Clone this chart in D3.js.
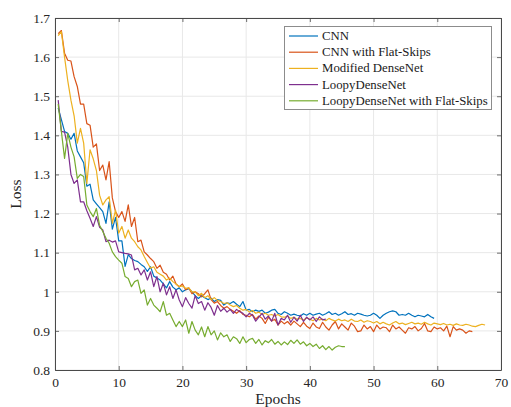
<!DOCTYPE html>
<html><head><meta charset="utf-8">
<script src="https://cdn.jsdelivr.net/npm/d3@7"></script>
<style>body{margin:0;background:#fff}svg{display:block}</style>
</head><body>
<svg id="c" width="511" height="407"></svg>
<script>
const seriesNames = ["CNN","CNN with Flat-Skips","Modified DenseNet","LoopyDenseNet","LoopyDenseNet with Flat-Skips"];
const colors = ["#0072BD","#D95319","#EDB120","#7E2F8E","#77AC30"];
const epochStep = 0.5; // one loss value every half epoch, starting at 0.5
const xTicks = [0,10,20,30,40,50,60,70];
const yTicks = [0.8,0.9,1.0,1.1,1.2,1.3,1.4,1.5,1.6,1.7];
const yTickLabels = ["0.8","0.9","1","1.1","1.2","1.3","1.4","1.5","1.6","1.7"];

const cnn = [1.47,1.44,1.41,1.405,1.39,1.405,1.36,1.345,1.33,1.27,1.275,1.235,1.225,1.215,1.205,1.175,1.23,1.16,1.19,1.13,
1.13,1.065,1.095,1.085,1.08,1.077,1.07,1.064,1.052,1.064,1.04,1.035,1.03,1.02,1.01,1.026,1.012,1.005,1.01,1.0,
1.005,1.008,1.0,0.99,0.983,0.99,0.985,0.98,0.984,0.975,0.98,0.978,0.966,0.972,0.97,0.975,0.968,0.962,0.975,0.953,
0.955,0.949,0.953,0.95,0.953,0.945,0.948,0.953,0.955,0.945,0.942,0.949,0.945,0.94,0.943,0.94,0.938,0.944,0.94,0.945,
0.94,0.943,0.945,0.94,0.944,0.949,0.942,0.945,0.94,0.944,0.949,0.942,0.944,0.94,0.945,0.943,0.94,0.938,0.94,0.945,
0.94,0.932,0.94,0.945,0.949,0.951,0.949,0.94,0.942,0.94,0.945,0.94,0.936,0.94,0.938,0.936,0.942,0.936,0.932];

const cnnFlat = [1.66,1.668,1.61,1.592,1.59,1.55,1.525,1.48,1.48,1.43,1.426,1.37,1.378,1.31,1.324,1.286,1.333,1.24,1.205,1.19,
1.205,1.18,1.222,1.167,1.19,1.128,1.132,1.102,1.094,1.085,1.077,1.06,1.068,1.05,1.045,1.03,1.04,1.02,1.013,1.02,
1.005,1.01,0.995,1.0,0.995,0.987,0.995,1.005,0.98,0.971,0.975,0.965,0.958,0.962,0.955,0.95,0.945,0.952,0.942,0.94,
0.936,0.942,0.93,0.938,0.932,0.919,0.935,0.925,0.93,0.915,0.925,0.918,0.924,0.915,0.925,0.918,0.911,0.922,0.912,0.906,
0.92,0.91,0.906,0.922,0.91,0.902,0.915,0.924,0.905,0.918,0.91,0.902,0.92,0.912,0.898,0.9,0.915,0.905,0.911,0.898,
0.915,0.905,0.91,0.908,0.898,0.915,0.905,0.91,0.902,0.894,0.908,0.905,0.911,0.9,0.906,0.919,0.9,0.898,0.91,0.905,
0.908,0.9,0.912,0.885,0.911,0.902,0.905,0.902,0.894,0.9,0.898];

const denseNet = [1.655,1.665,1.6,1.54,1.49,1.45,1.38,1.418,1.38,1.277,1.363,1.34,1.31,1.247,1.222,1.235,1.243,1.175,1.209,1.15,
1.167,1.137,1.158,1.137,1.128,1.115,1.107,1.09,1.075,1.06,1.064,1.05,1.045,1.04,1.03,1.035,1.026,1.02,1.013,1.015,
1.009,1.01,1.0,1.0,0.99,0.996,0.985,0.99,0.98,0.985,0.978,0.975,0.97,0.972,0.966,0.962,0.965,0.958,0.953,0.955,
0.948,0.952,0.945,0.948,0.942,0.945,0.94,0.942,0.938,0.942,0.936,0.935,0.938,0.932,0.935,0.93,0.932,0.928,0.933,0.93,
0.926,0.932,0.928,0.93,0.926,0.932,0.928,0.925,0.93,0.926,0.928,0.924,0.93,0.925,0.924,0.928,0.922,0.926,0.924,0.92,
0.924,0.918,0.922,0.918,0.915,0.92,0.924,0.918,0.92,0.916,0.919,0.922,0.918,0.92,0.917,0.922,0.918,0.915,0.92,0.918,
0.916,0.919,0.915,0.917,0.914,0.918,0.915,0.914,0.917,0.915,0.912,0.911,0.914,0.917,0.915];

const loopy = [1.49,1.41,1.408,1.37,1.30,1.277,1.286,1.23,1.23,1.207,1.188,1.167,1.192,1.165,1.158,1.128,1.132,1.127,1.13,1.102,
1.10,1.098,1.097,1.094,1.056,1.06,1.043,1.056,1.03,1.051,1.013,1.039,1.0,1.022,0.992,1.013,0.983,1.005,0.979,0.962,
0.985,0.97,0.958,0.99,0.97,0.975,0.953,0.972,0.96,0.94,0.965,0.95,0.958,0.948,0.955,0.945,0.955,0.949,0.945,0.936,
0.945,0.94,0.925,0.935,0.945,0.93,0.938,0.925,0.945,0.915,0.932,0.928,0.94,0.922,0.935,0.925,0.94,0.924,0.935,0.928,
0.936,0.924,0.936,0.928,0.93];

const loopyFlat = [1.48,1.41,1.341,1.405,1.37,1.345,1.29,1.30,1.295,1.222,1.205,1.192,1.213,1.17,1.154,1.137,1.124,1.102,1.09,1.081,
1.073,1.039,1.034,1.013,1.026,1.03,0.996,1.005,0.966,0.983,0.966,0.958,0.949,0.975,0.94,0.945,0.928,0.911,0.924,0.911,
0.928,0.894,0.924,0.902,0.89,0.91,0.885,0.911,0.89,0.9,0.877,0.895,0.885,0.89,0.873,0.885,0.88,0.868,0.885,0.87,
0.878,0.881,0.868,0.878,0.864,0.875,0.87,0.878,0.866,0.873,0.864,0.872,0.865,0.876,0.868,0.877,0.866,0.872,0.862,0.868,
0.86,0.866,0.855,0.862,0.852,0.86,0.851,0.858,0.862,0.86,0.86];

const allSeries = [cnn, cnnFlat, denseNet, loopy, loopyFlat];

const svg = d3.select("#c");
const L = 55, R = 501, T = 18, B = 370;
const x = d3.scaleLinear().domain([0,70]).range([L,R]);
const y = d3.scaleLinear().domain([0.8,1.7]).range([B,T]);
const font = "'Liberation Serif', 'Times New Roman', serif";
const axisColor = "#4a4a4a";

// grid
const grid = svg.append("g");
grid.selectAll("line.v").data(xTicks).join("line")
  .attr("x1", d=>x(d)).attr("x2", d=>x(d)).attr("y1", T).attr("y2", B)
  .attr("stroke", "#e8e8e8").attr("stroke-width", 1);
grid.selectAll("line.h").data(yTicks).join("line")
  .attr("y1", d=>y(d)).attr("y2", d=>y(d)).attr("x1", L).attr("x2", R)
  .attr("stroke", "#e8e8e8").attr("stroke-width", 1);

// lines
const line = d3.line().x((d,i)=>x((i+1)*epochStep)).y(d=>y(d));
svg.append("g").selectAll("path").data(allSeries).join("path")
  .attr("d", d=>line(d)).attr("fill","none")
  .attr("stroke", (d,i)=>colors[i]).attr("stroke-width", 1.2)
  .attr("stroke-linejoin","round");

function styleAxis(g){
  g.select(".domain").attr("stroke", axisColor).attr("stroke-width", 1);
  g.selectAll(".tick line").attr("stroke", axisColor).attr("stroke-width", 0.8);
  g.selectAll("text").attr("font-family", font).attr("font-size", 13.5).attr("fill", "#262626");
}
const xb = svg.append("g").attr("transform", `translate(0,${B})`)
  .call(d3.axisBottom(x).tickValues(xTicks).tickFormat(d3.format("d")).tickSizeInner(-4).tickSizeOuter(0).tickPadding(7));
styleAxis(xb);
const xt = svg.append("g").attr("transform", `translate(0,${T})`)
  .call(d3.axisTop(x).tickValues(xTicks).tickFormat("").tickSizeInner(-4).tickSizeOuter(0));
styleAxis(xt);
const yl = svg.append("g").attr("transform", `translate(${L},0)`)
  .call(d3.axisLeft(y).tickValues(yTicks).tickFormat((d,i)=>yTickLabels[i]).tickSizeInner(-4).tickSizeOuter(0).tickPadding(5));
styleAxis(yl);
const yr = svg.append("g").attr("transform", `translate(${R},0)`)
  .call(d3.axisRight(y).tickValues(yTicks).tickFormat("").tickSizeInner(-4).tickSizeOuter(0));
styleAxis(yr);

svg.append("text").attr("x", (L+R)/2).attr("y", 404).attr("text-anchor","middle")
  .attr("font-family", font).attr("font-size", 15.5).attr("fill","#262626").text("Epochs");
svg.append("text").attr("transform", `translate(21,${(T+B)/2}) rotate(-90)`).attr("text-anchor","middle")
  .attr("font-family", font).attr("font-size", 15.5).attr("fill","#262626").text("Loss");

// legend
const lg = svg.append("g");
lg.append("rect").attr("x", 284.5).attr("y", 26.5).attr("width", 207).attr("height", 83)
  .attr("fill","#fff").attr("stroke","#8c8c8c").attr("stroke-width",1);
seriesNames.forEach((n,i)=>{
  const yy = 36 + i*16.2;
  lg.append("line").attr("x1", 289).attr("x2", 318).attr("y1", yy).attr("y2", yy)
    .attr("stroke", colors[i]).attr("stroke-width", 1.2);
  lg.append("text").attr("x", 322).attr("y", yy+4).attr("font-family", font).attr("font-size", 12.8)
    .attr("fill","#1a1a1a").text(n);
});
</script>
</body></html>
